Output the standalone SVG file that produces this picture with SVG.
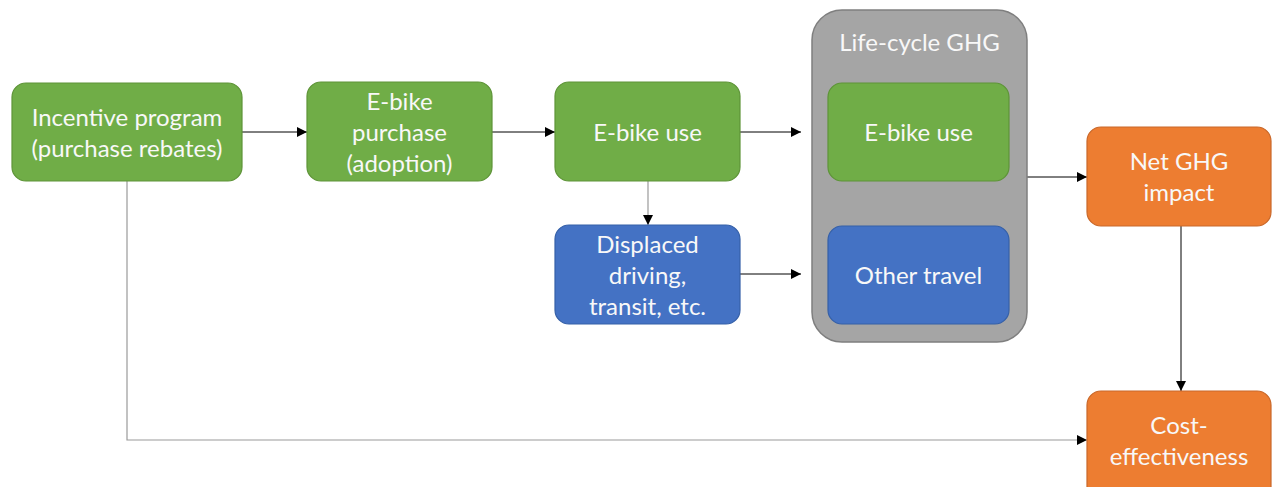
<svg xmlns="http://www.w3.org/2000/svg" width="1272" height="487" viewBox="0 0 1272 487">
  <style>
    .box { stroke-width: 1.2; }
    .green { fill: #70AD47; stroke: #5E9438; }
    .blue { fill: #4472C4; stroke: #3560A8; }
    .orange { fill: #ED7D31; stroke: #C9682A; }
    .group { fill: #A5A5A5; stroke: #7F7F7F; stroke-width: 1.5; }
    .label { font-family: Lato, "Open Sans", sans-serif; font-size: 24px; fill: #F8F8F8; text-anchor: middle; }
    .edge { stroke: #000000; stroke-width: 1; fill: none; }
    .edge-grey { stroke: #9A9A9A; stroke-width: 1.2; fill: none; }
  </style>
  <defs>
    <marker id="arrow" viewBox="0 0 10 10" refX="10" refY="5" markerWidth="10" markerHeight="10" markerUnits="userSpaceOnUse" orient="auto">
      <path d="M0,0 L10,5 L0,10 Z" fill="#000000"/>
    </marker>
  </defs>
  <rect width="1272" height="487" fill="#FFFFFF"/>

  <!-- connectors -->
  <g id="connectors">
    <line class="edge" x1="242" y1="132" x2="307" y2="132" marker-end="url(#arrow)"/>
    <line class="edge" x1="492" y1="132" x2="555" y2="132" marker-end="url(#arrow)"/>
    <line class="edge" x1="740" y1="132" x2="801" y2="132" marker-end="url(#arrow)"/>
    <line class="edge-grey" x1="648" y1="181" x2="648" y2="225" marker-end="url(#arrow)"/>
    <line class="edge" x1="740" y1="274" x2="801" y2="274" marker-end="url(#arrow)"/>
    <line class="edge" x1="1027" y1="177" x2="1087" y2="177" marker-end="url(#arrow)"/>
    <line class="edge" x1="1181" y1="226" x2="1181" y2="391" marker-end="url(#arrow)"/>
    <polyline class="edge-grey" points="127,181 127,440 1087,440" marker-end="url(#arrow)"/>
  </g>

  <g id="incentive">
    <rect class="box green" x="12" y="83" width="230" height="98" rx="14"/>
    <text class="label" x="127" y="126">Incentive program</text>
    <text class="label" x="127" y="157">(purchase rebates)</text>
  </g>

  <g id="purchase">
    <rect class="box green" x="307" y="82" width="185" height="99" rx="14"/>
    <text class="label" x="399.5" y="110">E-bike</text>
    <text class="label" x="399.5" y="141">purchase</text>
    <text class="label" x="399.5" y="172">(adoption)</text>
  </g>

  <g id="use">
    <rect class="box green" x="555" y="82" width="185" height="99" rx="14"/>
    <text class="label" x="647.5" y="141">E-bike use</text>
  </g>

  <g id="displaced">
    <rect class="box blue" x="555" y="225" width="185" height="99" rx="14"/>
    <text class="label" x="647.5" y="253">Displaced</text>
    <text class="label" x="647.5" y="284">driving,</text>
    <text class="label" x="647.5" y="315">transit, etc.</text>
  </g>

  <g id="lifecycle">
    <rect class="group" x="812" y="10" width="215" height="332" rx="30"/>
    <text class="label" x="919.5" y="51">Life-cycle GHG</text>
  </g>

  <g id="lifecycle-use">
    <rect class="box green" x="828" y="83" width="181" height="98" rx="14"/>
    <text class="label" x="918.5" y="141">E-bike use</text>
  </g>

  <g id="other-travel">
    <rect class="box blue" x="828" y="226" width="181" height="98" rx="14"/>
    <text class="label" x="918.5" y="284">Other travel</text>
  </g>

  <g id="net-ghg">
    <rect class="box orange" x="1087" y="127" width="184" height="99" rx="14"/>
    <text class="label" x="1179" y="170">Net GHG</text>
    <text class="label" x="1179" y="201">impact</text>
  </g>

  <g id="cost">
    <rect class="box orange" x="1087" y="391" width="184" height="110" rx="14"/>
    <text class="label" x="1179" y="434">Cost-</text>
    <text class="label" x="1179" y="465">effectiveness</text>
  </g>
</svg>
